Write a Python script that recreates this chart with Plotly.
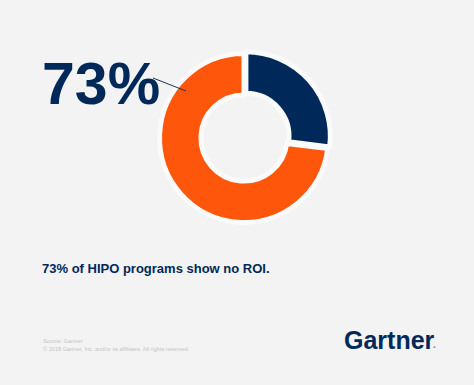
import plotly.graph_objects as go

# Data
labels = ["ROI", "No ROI"]
values = [27, 73]
colors = ["#00295a", "#fe570b"]
headline = "73%"
caption = "73% of HIPO programs show no ROI."
source_lines = ["Source: Gartner", "© 2018 Gartner, Inc. and/or its affiliates. All rights reserved."]
brand = "Gartner"

W, H = 474, 385
BG = "#f3f3f3"
NAVY = "#00295a"


def px(x):
    return x / W


def py(y):
    return 1 - y / H


fig = go.Figure()
fig.add_trace(go.Pie(
    labels=labels,
    values=values,
    marker=dict(colors=colors, line=dict(color="#fafafa", width=5)),
    hole=0.51,
    sort=False,
    direction="clockwise",
    rotation=0,
    pull=[0.03, 0],
    textinfo="none",
    hoverinfo="label+percent",
    showlegend=False,
    domain=dict(x=[px(244 - 87), px(244 + 87)], y=[py(138 + 87), py(138 - 87)]),
))

annotations = [
    dict(text=f"<b>{headline}</b>", x=px(40), y=py(84), xanchor="left", yanchor="middle",
         font=dict(family="Liberation Sans, Arial", size=59, color=NAVY)),
    dict(text=f"<b>{caption}</b>", x=px(40), y=py(268), xanchor="left", yanchor="middle",
         font=dict(family="Liberation Sans, Arial", size=13, color=NAVY)),
    dict(text=source_lines[0], x=px(41), y=py(341), xanchor="left", yanchor="middle",
         font=dict(family="Liberation Sans, Arial", size=5.6, color="#c4c4c4")),
    dict(text=source_lines[1], x=px(41), y=py(348.5), xanchor="left", yanchor="middle",
         font=dict(family="Liberation Sans, Arial", size=5.6, color="#c4c4c4")),
    dict(text=f"<b>{brand}</b>", x=px(342), y=py(340), xanchor="left", yanchor="middle",
         font=dict(family="Liberation Sans, Arial", size=25, color=NAVY)),
    dict(text="<b>.</b>", x=px(431), y=py(344), xanchor="left", yanchor="middle",
         font=dict(family="Liberation Sans, Arial", size=10, color="#7a8aa0")),
]

fig.update_layout(
    width=W, height=H,
    margin=dict(l=0, r=0, t=0, b=0),
    paper_bgcolor=BG, plot_bgcolor=BG,
    annotations=[dict(a, xref="paper", yref="paper", showarrow=False) for a in annotations],
    shapes=[dict(type="line", xref="paper", yref="paper",
                 x0=px(153), y0=py(78), x1=px(186), y1=py(91),
                 line=dict(color="#1f3350", width=1))],
)

fig.write_html("out.html", config={"displayModeBar": False},
               post_script="document.body.style.margin='0';")
